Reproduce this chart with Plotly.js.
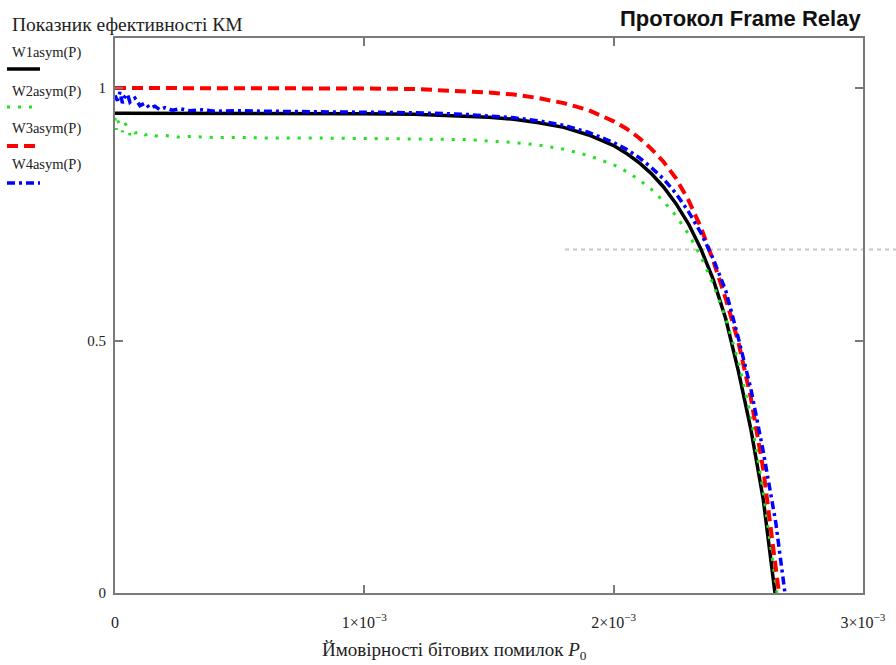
<!DOCTYPE html>
<html>
<head>
<meta charset="utf-8">
<script src="https://cdn.plot.ly/plotly-3.0.1.min.js"></script>
<style>
  html, body { margin: 0; padding: 0; background: #fff; }
  #chart { width: 896px; height: 665px; }
</style>
</head>
<body>
<div id="chart"></div>
<script>
// Series names
const seriesNames = ['W1asym(P)', 'W2asym(P)', 'W3asym(P)', 'W4asym(P)'];

// Bit error probability P0, in units of 1e-3, and efficiency values per series
const p1 = [0, 0.2, 0.4, 0.6, 0.8, 1.0, 1.2, 1.4, 1.5, 1.6, 1.7, 1.8, 1.9, 2.0, 2.05, 2.1, 2.15, 2.2, 2.25, 2.3, 2.35, 2.4, 2.45, 2.5, 2.55, 2.6, 2.647];
const w1 = [0.950, 0.950, 0.950, 0.950, 0.950, 0.949, 0.948, 0.945, 0.942, 0.938, 0.931, 0.922, 0.907, 0.886, 0.871, 0.853, 0.831, 0.804, 0.771, 0.731, 0.681, 0.620, 0.542, 0.440, 0.325, 0.185, 0.0];

const p2 = [0, 0.005, 0.01, 0.02, 0.03, 0.04, 0.05, 0.06, 0.07, 0.08, 0.1, 0.12, 0.14, 0.16, 0.2, 0.25, 0.3, 0.4, 0.5, 0.6, 0.8, 1.0, 1.2, 1.4, 1.5, 1.6, 1.7, 1.8, 1.9, 2.0, 2.05, 2.1, 2.15, 2.2, 2.25, 2.3, 2.35, 2.4, 2.45, 2.5, 2.55, 2.6, 2.655];
const w2 = [0.941, 0.917, 0.936, 0.927, 0.913, 0.931, 0.921, 0.907, 0.917, 0.911, 0.913, 0.907, 0.909, 0.905, 0.906, 0.903, 0.904, 0.902, 0.902, 0.901, 0.901, 0.900, 0.900, 0.898, 0.895, 0.892, 0.887, 0.879, 0.866, 0.848, 0.835, 0.819, 0.800, 0.776, 0.747, 0.711, 0.666, 0.611, 0.543, 0.459, 0.350, 0.200, 0.0];

const p3 = [0, 0.2, 0.4, 0.6, 0.8, 1.0, 1.2, 1.4, 1.5, 1.6, 1.7, 1.8, 1.9, 2.0, 2.05, 2.1, 2.15, 2.2, 2.25, 2.3, 2.35, 2.4, 2.45, 2.5, 2.55, 2.6, 2.663];
const w3 = [1.000, 1.000, 1.000, 1.000, 1.000, 0.999, 0.998, 0.994, 0.991, 0.987, 0.980, 0.970, 0.956, 0.934, 0.920, 0.902, 0.880, 0.854, 0.821, 0.778, 0.724, 0.657, 0.582, 0.497, 0.387, 0.245, 0.0];

const p4 = [0, 0.01, 0.02, 0.03, 0.04, 0.05, 0.06, 0.08, 0.10, 0.12, 0.14, 0.16, 0.18, 0.20, 0.23, 0.26, 0.30, 0.35, 0.40, 0.5, 0.6, 0.8, 1.0, 1.2, 1.4, 1.5, 1.6, 1.7, 1.8, 1.9, 2.0, 2.05, 2.1, 2.15, 2.2, 2.25, 2.3, 2.35, 2.4, 2.45, 2.5, 2.55, 2.6, 2.65, 2.687];
const w4 = [0.985, 0.975, 0.992, 0.970, 0.983, 0.988, 0.972, 0.980, 0.965, 0.970, 0.960, 0.964, 0.957, 0.961, 0.956, 0.959, 0.955, 0.957, 0.954, 0.955, 0.954, 0.953, 0.953, 0.951, 0.948, 0.945, 0.941, 0.935, 0.926, 0.912, 0.892, 0.879, 0.863, 0.843, 0.820, 0.791, 0.755, 0.713, 0.661, 0.598, 0.505, 0.405, 0.280, 0.140, 0.0];

// Axis ticks
const xTickVals = [0, 1e-3, 2e-3, 3e-3];
const xTickText = ['0', '1×10<sup>−3</sup>', '2×10<sup>−3</sup>', '3×10<sup>−3</sup>'];
const yTickVals = [0, 0.5, 1];
const yTickText = ['0', '0.5', '1'];

// Horizontal reference level
const refLevel = 0.68;

const xMax = 3e-3, yMax = 1.099;
const serif = 'Liberation Serif, Times New Roman, serif';
const frameColor = '#7a7a7a';

const styles = [
  { color: '#000000', width: 3.5, dash: 'solid' },
  { color: '#22e022', width: 3, dash: '3px,8px' },
  { color: '#ff0000', width: 4, dash: '11px,6px' },
  { color: '#0000ff', width: 3.5, dash: '8px,4px,3px,4px' }
];

const pData = [p1, p2, p3, p4];
const wData = [w1, w2, w3, w4];

const traces = pData.map((p, i) => ({
  type: 'scatter',
  mode: 'lines',
  name: seriesNames[i],
  x: p.map(v => v * 1e-3),
  y: wData[i],
  line: styles[i],
  hoverinfo: 'skip'
}));

// Left-side legend: label with a line sample below it
const legendLabelY = [0.973, 0.9045, 0.8378, 0.7712];
const legendLineY = [0.9441, 0.8757, 0.8054, 0.7387];
const legendLineX1 = [-0.1003, -0.111, -0.1056, -0.1003];

const annotations = [
  {
    xref: 'paper', yref: 'paper', x: -0.1404, y: 1.0252,
    xanchor: 'left', yanchor: 'middle', showarrow: false,
    text: 'Показник ефективності КМ',
    font: { family: serif, size: 19.5, color: '#222' }
  },
  {
    xref: 'paper', yref: 'paper', x: 1.0, y: 1.036,
    xanchor: 'right', yanchor: 'middle', showarrow: false,
    text: '<b>Протокол Frame Relay</b>',
    font: { family: 'Liberation Sans, Arial, sans-serif', size: 22, color: '#111' }
  },
  {
    xref: 'paper', yref: 'paper', x: 0.4545, y: -0.1045,
    xanchor: 'center', yanchor: 'middle', showarrow: false,
    text: 'Ймовірності бітових помилок <i>P</i><sub>0</sub>',
    font: { family: serif, size: 19, color: '#222' }
  }
];
seriesNames.forEach((n, i) => annotations.push({
  xref: 'paper', yref: 'paper', x: -0.1404, y: legendLabelY[i],
  xanchor: 'left', yanchor: 'middle', showarrow: false,
  text: n, font: { family: serif, size: 14.5, color: '#222' }
}));

const shapes = seriesNames.map((n, i) => ({
  type: 'line', xref: 'paper', yref: 'paper',
  x0: -0.1444, x1: legendLineX1[i], y0: legendLineY[i], y1: legendLineY[i],
  line: styles[i]
}));
shapes.push({
  type: 'line', xref: 'paper', yref: 'paper', layer: 'below',
  x0: 0.6016, x1: 1.05, y0: refLevel / yMax, y1: refLevel / yMax,
  line: { color: '#c8c8c8', width: 2, dash: '4px,4px' }
});

const layout = {
  width: 896, height: 665,
  margin: { l: 115, r: 33, t: 38, b: 72 },
  paper_bgcolor: '#fff', plot_bgcolor: '#fff',
  showlegend: false,
  font: { family: serif, size: 14, color: '#222' },
  xaxis: {
    range: [0, xMax], tickmode: 'array', tickvals: xTickVals, ticktext: xTickText,
    showgrid: false, zeroline: false, showline: true, mirror: 'ticks',
    linecolor: frameColor, linewidth: 2, ticks: 'inside', ticklen: 8, tickwidth: 2,
    tickcolor: frameColor, ticklabelstandoff: 14,
    tickfont: { family: serif, size: 16, color: '#222' }
  },
  yaxis: {
    range: [0, yMax], tickmode: 'array', tickvals: yTickVals, ticktext: yTickText,
    showgrid: false, zeroline: false, showline: true, mirror: 'ticks',
    linecolor: frameColor, linewidth: 2, ticks: 'inside', ticklen: 8, tickwidth: 2,
    tickcolor: frameColor, ticklabelstandoff: 4,
    tickfont: { family: serif, size: 15, color: '#222' }
  },
  annotations: annotations,
  shapes: shapes
};

Plotly.newPlot('chart', traces, layout, { displayModeBar: false, staticPlot: true });
</script>
</body>
</html>
